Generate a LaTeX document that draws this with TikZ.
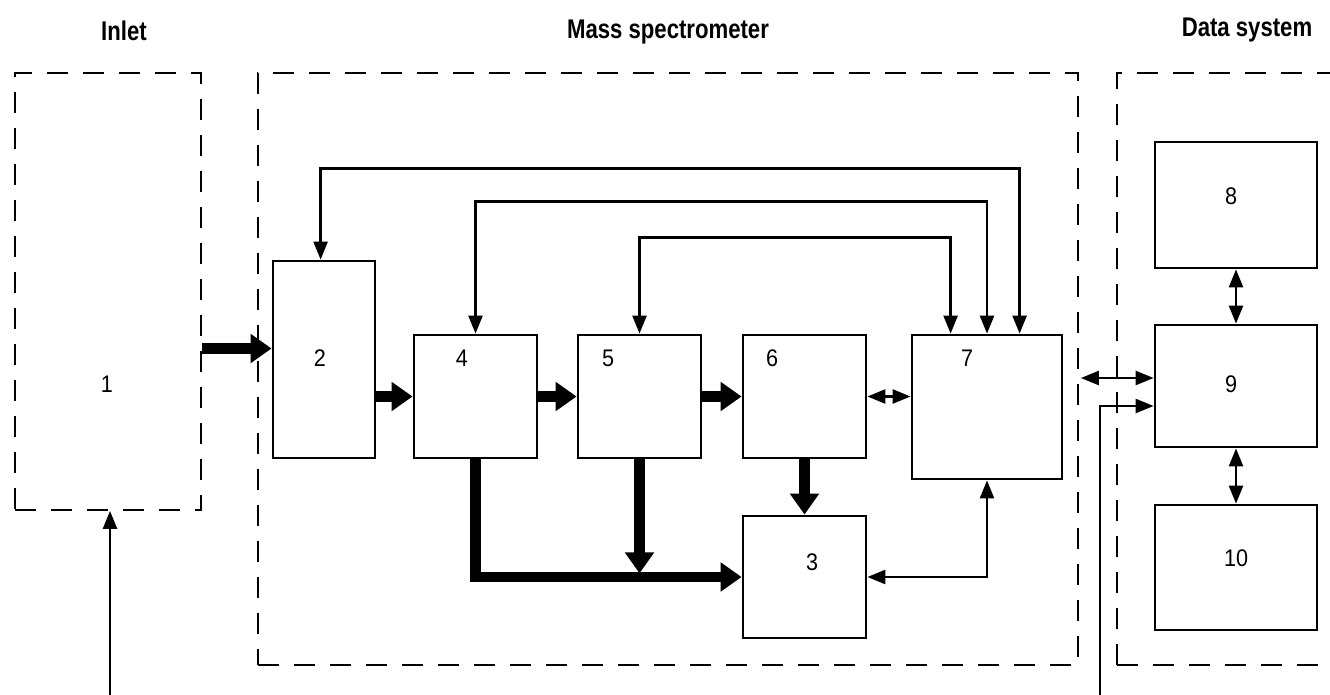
\documentclass[tikz,border=0pt]{standalone}
\usepackage{fontspec}
\setmainfont{Liberation Sans}
\newfontfamily\headfont{Liberation Sans}[FakeStretch=0.82]
\newfontfamily\numfont{Liberation Sans}[FakeStretch=0.9]
\usetikzlibrary{arrows.meta}
\begin{document}
\begin{tikzpicture}[x=1pt,y=-1pt,
  blk/.style={draw, line width=2.8pt, inner sep=0pt, fill=none},
  dashbox/.style={draw, line width=1.8pt, dash pattern=on 21pt off 15pt, inner sep=0pt},
  num/.style={font=\numfont\fontsize{24}{26}\selectfont, inner sep=0pt},
  head/.style={font=\headfont\bfseries\fontsize{27}{30}\selectfont, inner sep=0pt, anchor=base},
  thickarr/.style={line width=10.5pt, line join=miter, -{Triangle[length=21pt,width=28pt]}},
  thin/.style={line width=2.5pt, line join=miter},
  dbl/.style={thin, {Triangle[length=18pt,width=14pt]}-{Triangle[length=18pt,width=14pt]}},
  sgl/.style={thin, -{Triangle[length=18pt,width=14pt]}}
]
\useasboundingbox (0,0) rectangle (1330,694);

% headers
\node[head] (hInlet) at (124,40) {Inlet};
\node[head] (hMS) at (668,38) {Mass spectrometer};
\node[head] (hDS) at (1247,36) {Data system};

% dashed group boxes
\node[dashbox, minimum width=186pt, minimum height=437pt] (inlet) at (108,291.5) {};
\node[dashbox, minimum width=820pt, minimum height=592pt] (ms) at (668,369) {};
\draw[line width=1.8pt, dash pattern=on 21pt off 15pt] (1117,665) -- (1117,73) -- (1335,73);
\draw[line width=1.8pt, dash pattern=on 21pt off 15pt] (1117,665) -- (1335,665);

% blocks
\node[blk, minimum width=102pt, minimum height=197pt] (b2) at (324,359.5) {};
\node[blk, minimum width=123pt, minimum height=123pt] (b4) at (475.5,396.5) {};
\node[blk, minimum width=123pt, minimum height=123pt] (b5) at (639.5,396.5) {};
\node[blk, minimum width=123pt, minimum height=123pt] (b6) at (804.5,396.5) {};
\node[blk, minimum width=150pt, minimum height=144pt] (b7) at (987,407) {};
\node[blk, minimum width=123pt, minimum height=122pt] (b3) at (804.5,577) {};
\node[blk, minimum width=162pt, minimum height=126pt] (b8) at (1236,205) {};
\node[blk, minimum width=162pt, minimum height=122pt] (b9) at (1236,386) {};
\node[blk, minimum width=162pt, minimum height=125pt] (b10) at (1236,567.5) {};

% labels
\node[num] (l1) at (107,384) {1};
\node[num] (l2) at (320,358) {2};
\node[num] (l4) at (462,358) {4};
\node[num] (l5) at (608,358) {5};
\node[num] (l6) at (772,358) {6};
\node[num] (l7) at (967,358) {7};
\node[num] (l3) at (812,562) {3};
\node[num] (l8) at (1231,196) {8};
\node[num] (l9) at (1231,384) {9};
\node[num] (l10) at (1236,558) {10};

% thick flow arrows
\coordinate (a12) at ([yshift=11pt]b2.west);
\draw[thickarr] (inlet.east |- a12) -- (a12);
\draw[thickarr] (b2.east |- b4.west) -- (b4.west);
\draw[thickarr] (b4.east) -- (b5.west);
\draw[thickarr] (b5.east) -- (b6.west);
\draw[thickarr] (b6.south) -- (b3.north);
\draw[thickarr] (b4.south) |- (b3.west);
\draw[thickarr] (b5.south) -- ++(0,114);

% feedback loops
\draw[dbl] ([xshift=109pt]b7.north west) -- ++(0,-165) -| ([xshift=49pt]b2.north west);
\draw[dbl] (b7.north) -- ++(0,-132) -| (b4.north);
\draw[dbl] ([xshift=40pt]b7.north west) -- ++(0,-96) -| (b5.north);

% other thin connectors
\draw[dbl] (b6.east) -- (b7.west |- b6.east);
\draw[dbl] (b7.south) |- (b3.east);
\coordinate (a9t) at ([yshift=8pt]b9.west);
\draw[dbl] ([xshift=2pt]ms.east |- a9t) -- (a9t);
\coordinate (a9b) at ([yshift=-20pt]b9.west);
\coordinate (src9) at (1100,700);
\draw[sgl] (src9) |- (a9b);
\coordinate (src1) at (110,700);
\draw[sgl] (src1) -- (src1 |- inlet.south);
\draw[dbl] (b8.south) -- (b9.north);
\draw[dbl] (b9.south) -- (b10.north);
\end{tikzpicture}
\end{document}
